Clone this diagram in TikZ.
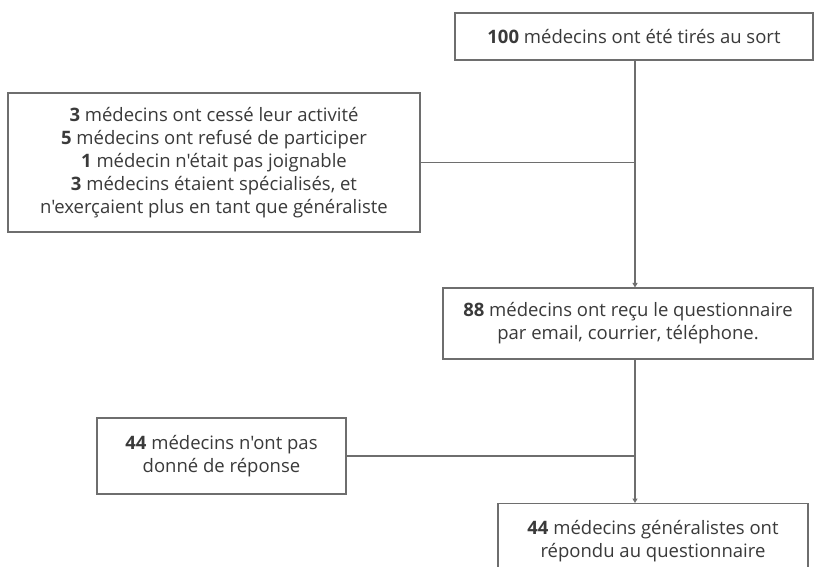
\documentclass[tikz,border=0pt]{standalone}
\usepackage{fontspec}
\newfontfamily\osans{Open Sans}
\usetikzlibrary{arrows.meta}
\definecolor{linec}{HTML}{6E6E6E}
\definecolor{txt}{HTML}{3A3A3A}
\begin{document}
\begin{tikzpicture}[x=1pt,y=-1pt,
  box/.style={draw=linec, line width=1.1pt, fill=white, rectangle, inner sep=0pt,
    align=center, text=txt, font=\osans\fontsize{18.5}{23}\selectfont},
  conn/.style={draw=linec, line width=1.1pt},
  arr/.style={conn, -{Triangle[width=5pt,length=4.5pt]}}]
\useasboundingbox (0,0) rectangle (818,566);
\clip (0,0) rectangle (818,566);
\coordinate (spine) at (635,0);
\node[box, minimum width=358pt, minimum height=47pt] (b1) at (634,36.5)
  {\textbf{100} médecins ont été tirés au sort};
\node[box, minimum width=412pt, minimum height=139pt] (b2) at (214,162.5)
  {\textbf{3} médecins ont cessé leur activité\\
   \textbf{5} médecins ont refusé de participer\\
   \textbf{1} médecin n'était pas joignable\\
   \textbf{3} médecins étaient spécialisés, et\\
   n'exerçaient plus en tant que généraliste};
\node[box, minimum width=370pt, minimum height=71pt] (b3) at (628,323.5)
  {\textbf{88} médecins ont reçu le questionnaire\\
   par email, courrier, téléphone.};
\node[box, minimum width=249pt, minimum height=76pt] (b4) at (221.5,456)
  {\textbf{44} médecins n'ont pas\\ donné de réponse};
\node[box, minimum width=310pt, minimum height=76pt, anchor=north] (b5) at (653,503)
  {\textbf{44} médecins généralistes ont\\ répondu au questionnaire};
\draw[arr] (b1.south -| spine) -- (b3.north -| spine);
\draw[arr] (b3.south -| spine) -- (b5.north -| spine);
\draw[conn] (b2.east) -- (b2.east -| spine);
\draw[conn] (b4.east) -- (b4.east -| spine);
\end{tikzpicture}
\end{document}
